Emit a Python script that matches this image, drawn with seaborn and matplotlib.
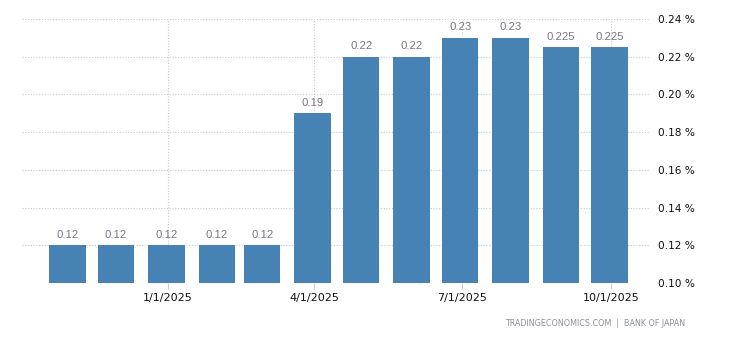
import matplotlib
matplotlib.use("Agg")
import matplotlib.pyplot as plt
import matplotlib.dates as mdates
import matplotlib.ticker as mticker
import seaborn as sns
import pandas as pd
import numpy as np

dates = ["2024-10-31", "2024-11-30", "2024-12-31", "2025-01-31", "2025-02-28",
         "2025-03-31", "2025-04-30", "2025-05-31", "2025-06-30", "2025-07-31",
         "2025-08-31", "2025-09-30"]
values = [0.12, 0.12, 0.12, 0.12, 0.12, 0.19, 0.22, 0.22, 0.23, 0.23, 0.225, 0.225]
x_ticks = ["2025-01-01", "2025-04-01", "2025-07-01", "2025-10-01"]
x_tick_labels = ["1/1/2025", "4/1/2025", "7/1/2025", "10/1/2025"]
y_ticks = [0.10, 0.12, 0.14, 0.16, 0.18, 0.20, 0.22, 0.24]

sns.set_theme(style="white")
plt.rcParams['font.family'] = ['DejaVu Sans']

df = pd.DataFrame({"date": mdates.date2num(pd.to_datetime(dates)), "value": values})

fig = plt.figure(figsize=(7.3, 3.4), dpi=100)
ax = fig.add_axes([22/730, 1 - 283/340, (650-22)/730, (283-19)/340])

sns.barplot(data=df, x="date", y="value", native_scale=True, width=0.8,
            color="#4682B4", saturation=1, linewidth=0, ax=ax, zorder=3)

labels = [f"{v:g}" for v in values]
ax.bar_label(ax.containers[0], labels=labels, padding=4, fontsize=8.2,
             color="#7a7385", family="Liberation Sans")

ax.set_ylim(0.10, 0.24)
ax.set_xlim(mdates.date2num(pd.Timestamp("2024-10-03")), mdates.date2num(pd.Timestamp("2025-10-25")))

ax.yaxis.tick_right()
ax.set_yticks(y_ticks)
ax.yaxis.set_major_formatter(mticker.FuncFormatter(lambda v, p: f"{v:.2f} %"))
tick_pos = mdates.date2num(pd.to_datetime(x_ticks))
ax.set_xticks(tick_pos)
ax.set_xticklabels(x_tick_labels)
ax.tick_params(axis="y", length=0, pad=6, labelsize=7.6, labelcolor="#111111")
ax.tick_params(axis="x", length=4, width=0.8, color="#cccccc", pad=3, labelsize=8, labelcolor="#111111",
               bottom=True)
ax.set_xlabel("")
ax.set_ylabel("")
for s in ax.spines.values():
    s.set_visible(False)

ax.grid(True, axis="both", linestyle=(0, (1, 1.5)), color="#c8c8c8", linewidth=0.8, zorder=0)
ax.set_axisbelow(True)

fig.text(685/730, 1 - 323/340, "TRADINGECONOMICS.COM  |  BANK OF JAPAN", ha="right", va="center",
         fontsize=5.8, color="#8a8f9a")

fig.savefig("out.png", dpi=100)
